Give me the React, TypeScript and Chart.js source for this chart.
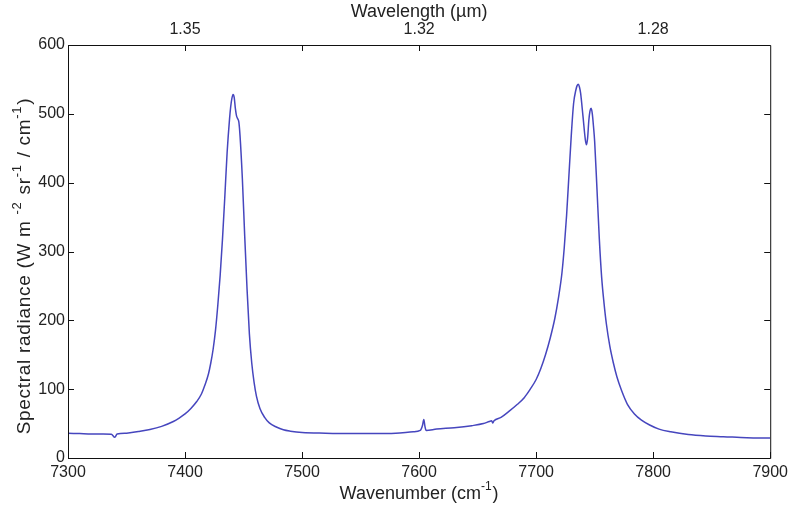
import React, { useEffect, useRef } from "react";
import { Chart, registerables } from "chart.js";

Chart.register(...registerables);

// Wavenumber samples (cm^-1) and spectral radiance (W m^-2 sr^-1 / cm^-1)
const wavenumber = [
  7300, 7310, 7320, 7330, 7337, 7340, 7342, 7350, 7360, 7370, 7380, 7390,
  7395, 7400, 7405, 7410, 7414, 7417, 7420, 7422, 7424, 7426, 7428, 7430,
  7432, 7434, 7436, 7438, 7439, 7440, 7441, 7442, 7443, 7444, 7445, 7446,
  7447, 7449, 7451, 7453, 7455, 7457, 7459, 7461, 7464, 7468, 7472, 7478,
  7484, 7490, 7500, 7520, 7540, 7560, 7580, 7595, 7601, 7603, 7604, 7605,
  7606, 7615, 7630, 7645, 7655, 7660, 7662, 7663, 7664, 7670, 7677, 7684,
  7690, 7695, 7700, 7704, 7708, 7712, 7716, 7719, 7722, 7724, 7726, 7728,
  7730, 7732, 7734, 7735, 7736, 7737, 7738, 7740, 7742, 7743, 7744, 7745,
  7746, 7747, 7748, 7749, 7750, 7752, 7754, 7756, 7758, 7760, 7763, 7766,
  7769, 7773, 7778, 7784, 7790, 7797, 7805, 7815, 7830, 7845, 7860, 7880,
  7900,
];

const radiance = [
  36, 35.5, 35, 35, 34.5, 30, 35, 36, 38.5, 41.5, 46, 53,
  58, 64, 72, 82, 93, 106, 122, 138, 158, 185, 222, 265,
  318, 380, 445, 492, 510, 522, 528, 524, 508, 497, 493, 488,
  468, 405, 322, 245, 180, 138, 110, 90, 72, 59, 51, 45,
  41, 39, 37, 36, 35.5, 35.5, 36, 38, 40, 48, 56, 46,
  40, 42, 44, 47, 50, 53, 54, 51, 54, 59, 68, 78,
  88, 100, 114, 130, 150, 174, 203, 232, 268, 305, 352, 410,
  468, 515, 535, 541, 543, 539, 530, 497, 463, 455, 465, 490,
  504, 508, 500, 482, 460, 390, 318, 262, 225, 195, 162, 138,
  118, 98, 78, 64, 55, 48, 42, 38, 34, 32, 31, 29.5,
  29,
];

// Wavenumber ticks on the top axis; labelled ones show the wavelength in µm
const topTicks = [7400, 7500, 7600, 7700, 7800];
const topLabelled = [7400, 7600, 7800];

const FONT = "'Liberation Sans', Arial, Helvetica, sans-serif";
const INK = "#222";
const TICK_SIZE = 16;

type Run = { t: string; sup?: boolean };

const xTitle: Run[] = [{ t: "Wavenumber (cm" }, { t: "-1", sup: true }, { t: ")" }];
const topTitle: Run[] = [{ t: "Wavelength (µm)" }];
const yTitle: Run[] = [
  { t: "Spectral radiance (W m " },
  { t: "-2", sup: true },
  { t: " sr" },
  { t: "-1", sup: true },
  { t: " / cm" },
  { t: "-1", sup: true },
  { t: ")" },
];

// Writes a run of text with raised, smaller superscripts, centred on (0,0)
function drawRich(
  ctx: CanvasRenderingContext2D,
  runs: Run[],
  size: number,
  supSize: number,
  spacing = 0
) {
  const fontFor = (r: Run) => `${r.sup ? supSize : size}px ${FONT}`;
  (ctx as any).letterSpacing = `${spacing}px`;
  let total = 0;
  for (const r of runs) {
    ctx.font = fontFor(r);
    total += ctx.measureText(r.t).width + (r.sup ? 1 : 0);
  }
  let x = -total / 2;
  ctx.textBaseline = "middle";
  ctx.textAlign = "left";
  for (const r of runs) {
    ctx.font = fontFor(r);
    ctx.fillText(r.t, x, r.sup ? -size * 0.4 : 0);
    x += ctx.measureText(r.t).width + (r.sup ? 1 : 0);
  }
  (ctx as any).letterSpacing = "0px";
}

// Box around the plot area with inward-facing tick marks, plus axis titles
const framePlugin = {
  id: "frameTicks",
  afterDraw(chart: any) {
    const { ctx, chartArea: a, scales } = chart;
    const len = 6;
    ctx.save();
    ctx.strokeStyle = "#111";
    ctx.lineWidth = 1;
    ctx.beginPath();
    ctx.rect(a.left + 0.5, a.top + 0.5, a.right - a.left, a.bottom - a.top);
    ctx.stroke();
    ctx.beginPath();
    for (const t of scales.x.ticks) {
      const px = Math.round(scales.x.getPixelForValue(t.value)) + 0.5;
      ctx.moveTo(px, a.bottom);
      ctx.lineTo(px, a.bottom - len);
    }
    for (const t of scales.x2.ticks) {
      const px = Math.round(scales.x2.getPixelForValue(t.value)) + 0.5;
      ctx.moveTo(px, a.top);
      ctx.lineTo(px, a.top + len);
    }
    for (const t of scales.y.ticks) {
      const py = Math.round(scales.y.getPixelForValue(t.value)) + 0.5;
      ctx.moveTo(a.left, py);
      ctx.lineTo(a.left + len, py);
      ctx.moveTo(a.right, py);
      ctx.lineTo(a.right - len, py);
    }
    ctx.stroke();

    ctx.fillStyle = INK;
    const cx = (a.left + a.right) / 2;
    ctx.save();
    ctx.translate(cx, 494);
    drawRich(ctx, xTitle, 18, 12);
    ctx.restore();
    ctx.save();
    ctx.translate(cx, 12);
    drawRich(ctx, topTitle, 18, 12);
    ctx.restore();
    ctx.save();
    ctx.translate(25, 266);
    ctx.rotate(-Math.PI / 2);
    drawRich(ctx, yTitle, 19, 13, 0.7);
    ctx.restore();
    ctx.restore();
  },
};

export default function App() {
  const canvasRef = useRef<HTMLCanvasElement | null>(null);

  useEffect(() => {
    document.body.style.margin = "0";
    const canvas = canvasRef.current;
    if (!canvas) return;
    const tickFont = { family: FONT, size: TICK_SIZE };
    const chart = new Chart(canvas, {
      type: "line",
      data: {
        datasets: [
          {
            data: wavenumber.map((w, i) => ({ x: w, y: radiance[i] })),
            borderColor: "#4646be",
            borderWidth: 1.5,
            pointRadius: 0,
            cubicInterpolationMode: "monotone",
            fill: false,
          },
        ],
      },
      options: {
        animation: false,
        responsive: false,
        maintainAspectRatio: false,
        layout: { padding: { right: 21, left: 0, top: 0, bottom: 0 } },
        plugins: { legend: { display: false }, tooltip: { enabled: false } },
        scales: {
          x: {
            type: "linear",
            position: "bottom",
            min: 7300,
            max: 7900,
            grid: { display: false, drawTicks: false },
            border: { display: false },
            ticks: {
              stepSize: 100,
              padding: 5,
              color: INK,
              font: tickFont,
              maxRotation: 0,
              callback: (v: any) => String(v),
            },
            afterFit: (s: any) => {
              s.height = 48;
            },
          },
          x2: {
            type: "linear",
            position: "top",
            min: 7300,
            max: 7900,
            grid: { display: false, drawTicks: false },
            border: { display: false },
            afterBuildTicks: (s: any) => {
              s.ticks = topTicks.map((v) => ({ value: v }));
            },
            ticks: {
              padding: 6,
              color: INK,
              font: tickFont,
              maxRotation: 0,
              autoSkip: false,
              callback: (v: any) =>
                topLabelled.includes(v) ? (1e4 / v).toFixed(2) : "",
            },
            afterFit: (s: any) => {
              s.height = 45;
            },
          },
          y: {
            type: "linear",
            position: "left",
            min: 0,
            max: 600,
            grid: { display: false, drawTicks: false },
            border: { display: false },
            ticks: {
              stepSize: 100,
              padding: 3,
              color: INK,
              font: tickFont,
            },
            afterFit: (s: any) => {
              s.width = 68;
            },
          },
        },
      },
      plugins: [framePlugin],
    });
    return () => chart.destroy();
  }, []);

  return (
    <div style={{ width: 793, height: 506, background: "#fff" }}>
      <canvas ref={canvasRef} width={793} height={506} style={{ display: "block" }} />
    </div>
  );
}
